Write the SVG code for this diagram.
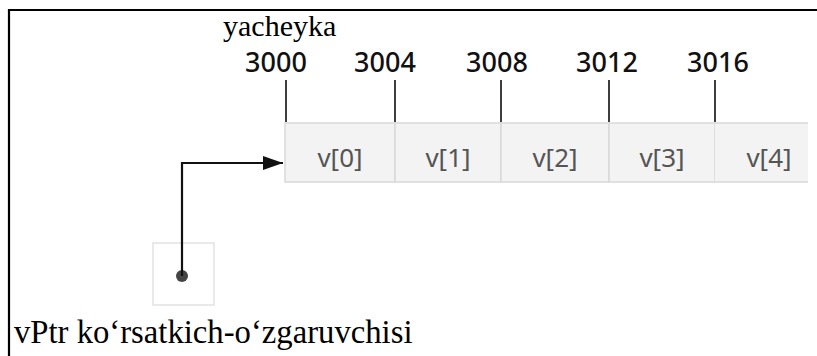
<svg xmlns="http://www.w3.org/2000/svg" width="817" height="356" viewBox="0 0 817 356">
<defs>
<style>
.frame{stroke:#000;stroke-width:2.2;fill:none}
.cell{fill:#f3f3f3;stroke:#d9d9d9;stroke-width:1.5}
.cellfill{fill:#f3f3f3}
.cellline{stroke:#d9d9d9;stroke-width:1.5}
.vl{font-family:"Noto Sans","Open Sans",sans-serif;font-size:26px;fill:#555;text-anchor:middle}
.addr{font-family:"Noto Sans","Open Sans",sans-serif;font-size:27px;font-weight:500;fill:#111;text-anchor:middle}
.tick{stroke:#2a2a2a;stroke-width:1.8}
.serif{font-family:"Liberation Serif","Times New Roman",serif;fill:#000}
.conn{stroke:#111;stroke-width:2.2;fill:none}
</style>
<marker id="ah" viewBox="0 0 10 10" refX="10" refY="5" markerWidth="20" markerHeight="14" markerUnits="userSpaceOnUse" orient="auto" preserveAspectRatio="none">
<path d="M0,0 L10,5 L0,10 z" fill="#111"/>
</marker>
</defs>
<rect width="817" height="356" fill="#fff"/>
<path class="frame" d="M9,356 V10 H817"/>
<text class="serif" x="223" y="36" font-size="30">yacheyka</text>
<g id="addresses">
<text class="addr" x="276" y="72">3000</text>
<text class="addr" x="385" y="72">3004</text>
<text class="addr" x="497" y="72">3008</text>
<text class="addr" x="607" y="72">3012</text>
<text class="addr" x="718" y="72">3016</text>
<line class="tick" x1="286" y1="80" x2="286" y2="122"/>
<line class="tick" x1="395" y1="80" x2="395" y2="122"/>
<line class="tick" x1="501" y1="80" x2="501" y2="122"/>
<line class="tick" x1="609" y1="80" x2="609" y2="122"/>
<line class="tick" x1="715" y1="80" x2="715" y2="122"/>
</g>
<g id="v0"><rect class="cell" x="285" y="123" width="110" height="59"/><text class="vl" x="340" y="167">v[0]</text></g>
<g id="v1"><rect class="cell" x="395" y="123" width="106" height="59"/><text class="vl" x="448" y="167">v[1]</text></g>
<g id="v2"><rect class="cell" x="501" y="123" width="108" height="59"/><text class="vl" x="555" y="167">v[2]</text></g>
<g id="v3"><rect class="cell" x="609" y="123" width="106" height="59"/><text class="vl" x="662" y="167">v[3]</text></g>
<g id="v4"><rect class="cellfill" x="715" y="123" width="93" height="59"/><line class="cellline" x1="715" y1="123" x2="808" y2="123"/><line class="cellline" x1="715" y1="182" x2="808" y2="182"/><text class="vl" x="769" y="167">v[4]</text></g>
<g id="vPtr"><rect x="153" y="243" width="61" height="62" fill="#fff" stroke="#e2e2e2" stroke-width="1.5"/><circle cx="182" cy="276" r="6" fill="#444"/></g>
<g id="connectors"><path class="conn" d="M182,276 V163 H283" marker-end="url(#ah)"/></g>
<text class="serif" x="14" y="343" font-size="32.7">vPtr ko‘rsatkich-o‘zgaruvchisi</text>
</svg>
